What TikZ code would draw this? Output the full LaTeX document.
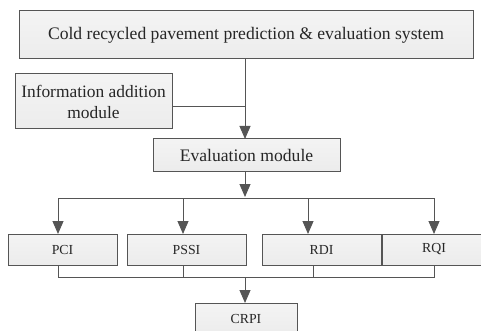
\documentclass[tikz,border=0pt]{standalone}
\usepackage{fontspec}
\setmainfont{Liberation Serif}
\usetikzlibrary{arrows.meta}
\definecolor{boxfill}{HTML}{ECECEC}
\definecolor{edge}{HTML}{555555}
\tikzset{
  box/.style={draw=edge, line width=1pt, top color=boxfill!60, bottom color=boxfill, middle color=boxfill!80, inner sep=0pt, align=center, text=black!85},
  conn/.style={draw=edge, line width=1pt},
  arr/.style={conn, -{Triangle[width=11pt,length=13pt]}},
  big/.style={font=\fontsize{17.6}{20}\selectfont},
  small/.style={font=\fontsize{13.8}{16}\selectfont},
}
\begin{document}
\begin{tikzpicture}[x=1pt,y=-1pt]
\useasboundingbox (0,0) rectangle (481,331);
\begin{scope}
\clip (0,0) rectangle (481,331);
\node[box, big, minimum width=454pt, minimum height=48pt] (sys) at (246,35) {Cold recycled pavement prediction \& evaluation system};
\node[box, font=\fontsize{17.4}{21}\selectfont, minimum width=157pt, minimum height=55pt] (info) at (93.5,101.5) {Information addition\\module};
\node[box, big, minimum width=187pt, minimum height=32pt] (eval) at (246.5,155) {Evaluation module};
\node[box, small, minimum width=109pt, minimum height=31pt] (pci) at (62.5,249.5) {PCI};
\node[box, small, minimum width=119pt, minimum height=31pt] (pssi) at (186.5,249.5) {PSSI};
\node[box, small, minimum width=119pt, minimum height=31pt] (rdi) at (321.5,249.5) {RDI};
\node[box, small, minimum width=104pt, minimum height=31pt] (rqi) at (434,249.5) {RQI};
\node[box, small, minimum width=102pt, minimum height=32pt] (crpi) at (246,319) {CRPI};

\coordinate (j1) at (245,107);
\coordinate (s1) at (245,59);
\coordinate (e1) at (245,139);
\coordinate (e2) at (245,171);
\coordinate (b1) at (245,197);
\coordinate (bl) at (58,198);
\coordinate (br) at (434,198);
\coordinate (t1) at (58,234);
\coordinate (p2) at (183,198);
\coordinate (t2) at (183,234);
\coordinate (p3) at (308,198);
\coordinate (t3) at (308,234);
\coordinate (t4) at (434,234);
\coordinate (u1) at (58,265);
\coordinate (u2) at (183,265);
\coordinate (u3) at (313,265);
\coordinate (u4) at (434,265);
\coordinate (ubl) at (58,277);
\coordinate (ubr) at (434,277);
\coordinate (uc) at (245,277);
\coordinate (c1) at (245,303);

\draw[arr] (s1) -- (e1);
\draw[conn] (info.east |- j1) -- (j1);
\draw[arr] (e2) -- (b1);
\draw[conn] (bl) -- (br);
\draw[arr] (bl) -- (t1);
\draw[arr] (p2) -- (t2);
\draw[arr] (p3) -- (t3);
\draw[arr] (br) -- (t4);
\draw[conn] (u1) -- (ubl) -- (ubr) -- (u4);
\draw[conn] (u2) -- (u2 |- ubl);
\draw[conn] (u3) -- (u3 |- ubl);
\draw[arr] (uc) -- (c1);
\end{scope}
\end{tikzpicture}
\end{document}
